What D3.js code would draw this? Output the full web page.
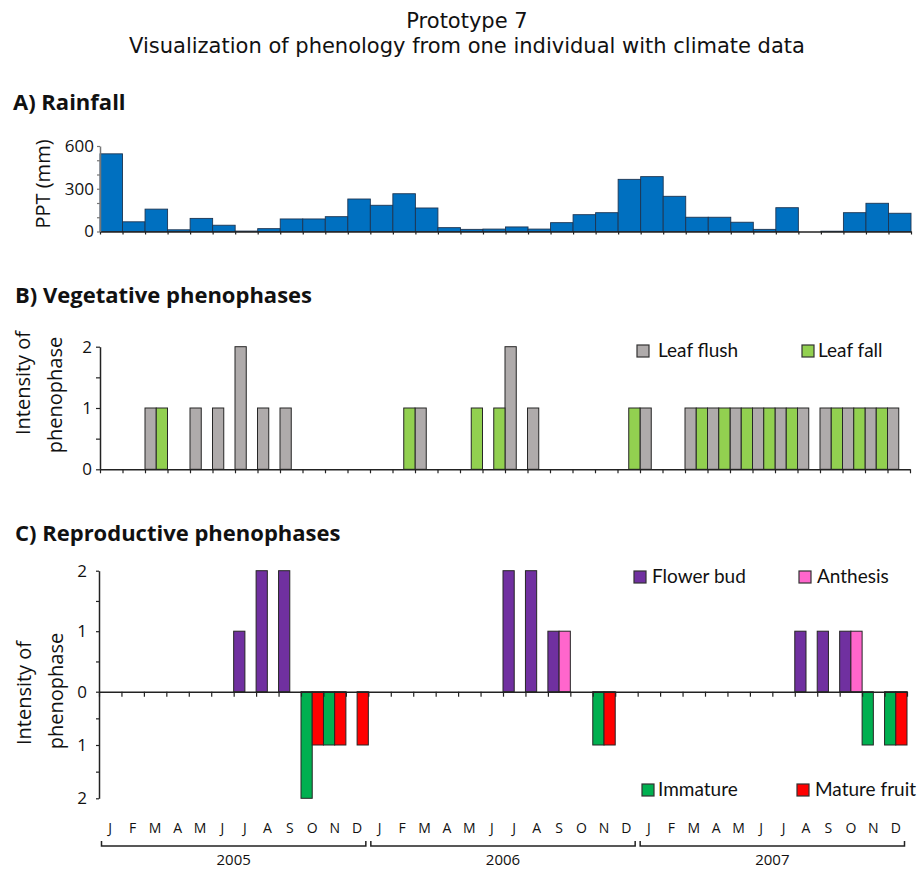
<!DOCTYPE html>
<html lang="en">
<head>
    <meta charset="UTF-8">
    <title>Prototype 7</title>
    <script src="https://cdn.jsdelivr.net/npm/d3@7/dist/d3.min.js"></script>
    <style>
        body { margin: 0; background: #fff; }
        text { font-family: "Open Sans", sans-serif; fill: #111; }
    </style>
</head>
<body>
    <svg width="921" height="871" id="mainsvg" style="display: block;"></svg>
    <script>
        const months = ["J", "F", "M", "A", "M", "J", "J", "A", "S", "O", "N", "D"];
        const years = ["2005", "2006", "2007"];

        // monthly rainfall Jan 2005 .. Dec 2007 (mm)
        const rainfall = [545, 68, 157, 12, 92, 44, 3, 20, 88, 88, 104, 228,
                          184, 265, 165, 27, 15, 17, 32, 17, 62, 118, 132, 366,
                          385, 247, 100, 100, 65, 15, 167, 0, 2, 132, 198, 128];

        // vegetative phenophases (intensity 0-2)
        const leafFlush = [0, 0, 1, 0, 1, 1, 2, 1, 1, 0, 0, 0,
                           0, 0, 1, 0, 0, 0, 2, 1, 0, 0, 0, 0,
                           1, 0, 1, 1, 1, 1, 1, 1, 1, 1, 1, 1];
        const leafFall = [0, 0, 1, 0, 0, 0, 0, 0, 0, 0, 0, 0,
                          0, 1, 0, 0, 1, 1, 0, 0, 0, 0, 0, 1,
                          0, 0, 1, 1, 1, 1, 1, 0, 1, 1, 1, 0];

        // reproductive phenophases (intensity 0-2)
        const flowerBud = [0, 0, 0, 0, 0, 0, 1, 2, 2, 0, 0, 0,
                           0, 0, 0, 0, 0, 0, 2, 2, 1, 0, 0, 0,
                           0, 0, 0, 0, 0, 0, 0, 1, 1, 1, 0, 0];
        const anthesis = [0, 0, 0, 0, 0, 0, 0, 0, 0, 0, 0, 0,
                          0, 0, 0, 0, 0, 0, 0, 0, 1, 0, 0, 0,
                          0, 0, 0, 0, 0, 0, 0, 0, 0, 1, 0, 0];
        const immature = [0, 0, 0, 0, 0, 0, 0, 0, 0, 2, 1, 0,
                          0, 0, 0, 0, 0, 0, 0, 0, 0, 0, 1, 0,
                          0, 0, 0, 0, 0, 0, 0, 0, 0, 0, 1, 1];
        const matureFruit = [0, 0, 0, 0, 0, 0, 0, 0, 0, 1, 1, 1,
                             0, 0, 0, 0, 0, 0, 0, 0, 0, 0, 1, 0,
                             0, 0, 0, 0, 0, 0, 0, 0, 0, 0, 0, 1];

        const svg = d3.select("#mainsvg");
        const nMonths = rainfall.length;
        const idx = d3.range(nMonths);
        const barStroke = "#262626";

        function styleAxis(g, color) {
            g.selectAll(".domain").attr("stroke", color).attr("stroke-width", 1.5);
            g.selectAll(".tick line").attr("stroke", color).attr("stroke-width", 1.2);
            g.selectAll(".tick text").attr("fill", "#111")
                .style("font-family", '"Open Sans", sans-serif');
        }

        function monthTicks(g, x0, x1, y, len) {
            const xb = d3.scaleLinear().domain([0, nMonths]).range([x0, x1]);
            const ax = g.append("g").attr("transform", `translate(0, ${y})`)
                .call(d3.axisBottom(xb).tickValues(d3.range(nMonths + 1))
                    .tickFormat("").tickSize(len).tickSizeOuter(0));
            styleAxis(ax, "#222");
        }

        function bars(g, x, y, values, sub, key, color, down) {
            g.append("g").selectAll("rect")
                .data(values.map((v, i) => ({ i, v })).filter(d => d.v > 0))
                .join("rect")
                .attr("x", d => x(d.i) + (sub ? sub(key) : 0))
                .attr("width", sub ? sub.bandwidth() : x.bandwidth())
                .attr("y", d => down ? y(0) : y(d.v))
                .attr("height", d => down ? y(-d.v) - y(0) : y(0) - y(d.v))
                .attr("fill", color)
                .attr("stroke", barStroke)
                .attr("stroke-width", 1);
        }

        function legend(items) {
            items.forEach(it => {
                svg.append("rect")
                    .attr("x", it.x).attr("y", it.y)
                    .attr("width", 12).attr("height", 12)
                    .attr("fill", it.color).attr("stroke", "#333").attr("stroke-width", 1.2);
                svg.append("text")
                    .attr("x", it.tx).attr("y", it.y + 12)
                    .style("font-family", "Lato, sans-serif")
                    .attr("font-size", 19)
                    .text(it.label);
            });
        }

        function yTitle(lines, xs, ys) {
            lines.forEach((t, k) => {
                svg.append("text")
                    .attr("transform", `translate(${xs[k]}, ${ys[k]}) rotate(-90)`)
                    .attr("text-anchor", "middle")
                    .attr("font-size", 20)
                    .text(t);
            });
        }

        function sectionTitle(t, x, y) {
            svg.append("text").attr("x", x).attr("y", y)
                .attr("font-size", 22).attr("font-weight", "bold")
                .text(t);
        }

        // main title
        svg.append("text").attr("x", 467).attr("y", 28)
            .attr("text-anchor", "middle")
            .style("font-family", '"DejaVu Sans", sans-serif')
            .attr("font-size", 21)
            .text("Prototype 7");
        svg.append("text").attr("x", 467).attr("y", 53)
            .attr("text-anchor", "middle")
            .style("font-family", '"DejaVu Sans", sans-serif')
            .attr("font-size", 21)
            .text("Visualization of phenology from one individual with climate data");

        // ---------- A) Rainfall ----------
        sectionTitle("A) Rainfall", 13, 110);
        const gA = svg.append("g");
        const xA = d3.scaleBand().domain(idx).range([100, 911]);
        const yA = d3.scaleLinear().domain([0, 600]).range([231.5, 146]);

        bars(gA, xA, yA, rainfall, null, null, "#0070C0", false);
        gA.selectAll("rect").attr("stroke", "#1d3552").attr("stroke-width", 0.9);

        monthTicks(gA, 100, 911, yA(0), 3);
        const axA = gA.append("g").attr("transform", "translate(100, 0)")
            .call(d3.axisLeft(yA).tickValues([0, 100, 200, 300, 400, 500, 600])
                .tickFormat(d => d % 300 === 0 ? d : "")
                .tickSize(3).tickPadding(3).tickSizeOuter(0));
        styleAxis(axA, "#777");
        axA.selectAll(".tick text").attr("font-size", 17);
        yTitle(["PPT (mm)"], [50], [184]);

        // ---------- B) Vegetative phenophases ----------
        sectionTitle("B) Vegetative phenophases", 15, 303);
        const gB = svg.append("g");
        const xB = d3.scaleBand().domain(idx).range([100, 910]);
        const subB = d3.scaleBand().domain(["flush", "fall"]).range([0, xB.bandwidth()]);
        const yB = d3.scaleLinear().domain([0, 2]).range([469.3, 346.7]);

        bars(gB, xB, yB, leafFlush, subB, "flush", "#AFABAB", false);
        bars(gB, xB, yB, leafFall, subB, "fall", "#92D050", false);

        monthTicks(gB, 100, 910, yB(0), 4);
        const axB = gB.append("g").attr("transform", "translate(100, 0)")
            .call(d3.axisLeft(yB).tickValues([0, 0.5, 1, 1.5, 2])
                .tickFormat(d => Number.isInteger(d) ? d : "")
                .tickSize(4).tickPadding(4).tickSizeOuter(0));
        styleAxis(axB, "#222");
        axB.selectAll(".tick text").attr("font-size", 17);
        yTitle(["Intensity of", "phenophase"], [30, 62], [383, 395]);

        legend([
            { x: 637, y: 345, tx: 658, color: "#AFABAB", label: "Leaf flush" },
            { x: 802, y: 345, tx: 818, color: "#92D050", label: "Leaf fall" }
        ]);

        // ---------- C) Reproductive phenophases ----------
        sectionTitle("C) Reproductive phenophases", 15, 541);
        const gC = svg.append("g");
        const xC = d3.scaleBand().domain(idx).range([99, 907]);
        const subC = d3.scaleBand().domain(["left", "right"]).range([0, xC.bandwidth()]);
        const yC = d3.scaleLinear().domain([-2, 0, 2]).range([798.3, 691.7, 570.7]);

        bars(gC, xC, yC, flowerBud, subC, "left", "#7030A0", false);
        bars(gC, xC, yC, anthesis, subC, "right", "#FF66CC", false);
        bars(gC, xC, yC, immature, subC, "left", "#00B050", true);
        bars(gC, xC, yC, matureFruit, subC, "right", "#FF0000", true);

        monthTicks(gC, 99, 907, yC(0), 5);
        const axC = gC.append("g").attr("transform", "translate(99, 0)")
            .call(d3.axisLeft(yC).tickValues([-2, -1.5, -1, -0.5, 0, 0.5, 1, 1.5, 2])
                .tickFormat(d => Number.isInteger(d) ? Math.abs(d) : "")
                .tickSize(3).tickPadding(9).tickSizeOuter(0));
        styleAxis(axC, "#222");
        axC.selectAll(".tick text").attr("font-size", 17);
        yTitle(["Intensity of", "phenophase"], [31, 63], [693, 691]);

        legend([
            { x: 634, y: 571, tx: 652, color: "#7030A0", label: "Flower bud" },
            { x: 799, y: 571, tx: 817, color: "#FF66CC", label: "Anthesis" },
            { x: 642, y: 784, tx: 658, color: "#00B050", label: "Immature" },
            { x: 797, y: 784, tx: 815, color: "#FF0000", label: "Mature fruit" }
        ]);

        // ---------- month labels and year brackets ----------
        svg.append("g").selectAll("text").data(idx).join("text")
            .attr("x", i => xC(i) + xC.bandwidth() / 2)
            .attr("y", 833)
            .attr("text-anchor", "middle")
            .attr("font-size", 14)
            .text(i => months[i % 12]);

        const brackets = svg.append("g");
        years.forEach((yr, k) => {
            const x0 = xC(k * 12) + 2.5;
            const x1 = xC(k * 12 + 11) + xC.bandwidth() - 2.5;
            brackets.append("path")
                .attr("d", `M${x0},841 V846 H${x1} V841`)
                .attr("fill", "none").attr("stroke", "#222").attr("stroke-width", 1.5);
            brackets.append("text")
                .attr("x", (x0 + x1) / 2).attr("y", 865)
                .attr("text-anchor", "middle")
                .attr("font-size", 15)
                .text(yr);
        });
    </script>
</body>
</html>
